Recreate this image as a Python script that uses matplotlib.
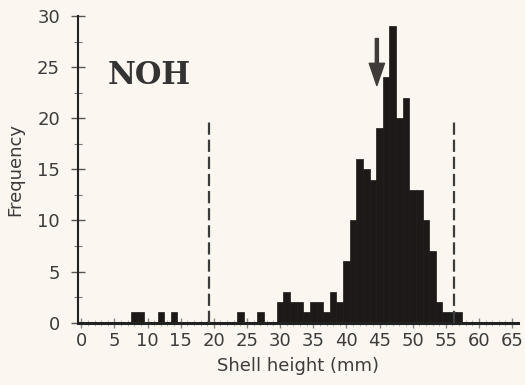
import numpy as np
import matplotlib.pyplot as plt

# Shell height classes (mm, 1 mm bins) and number of shells in each
hauteur = [8, 9, 12, 14, 24, 27, 30, 31, 32, 33, 34, 35, 36, 37, 38, 39, 40,
           41, 42, 43, 44, 45, 46, 47, 48, 49, 50, 51, 52, 53, 54, 55, 56, 57]
effectif = [1, 1, 1, 1, 1, 1, 2, 3, 2, 2, 1, 2, 2, 1, 3, 2, 6,
            10, 16, 15, 14, 19, 24, 29, 20, 22, 13, 13, 10, 7, 2, 1, 1, 1]

site = 'NOH'
limites = [19.3, 56.2]     # dashed limits
moyenne = 44.6             # arrow position
x_ticks = np.arange(0, 66, 5)
y_ticks = np.arange(0, 31, 5)

fond = '#fbf6ef'
gris = '#3c3c3c'

fig = plt.figure(figsize=(5.25, 3.85), dpi=100, facecolor=fond)
ax = fig.add_axes([0.1486, 0.1618, 0.8381, 0.7966], facecolor=fond)

ax.bar(hauteur, effectif, width=1.0, color='#1d1918', edgecolor='#1d1918',
       linewidth=0.5, zorder=2)

# Dashed limits
for xl in limites:
    ax.plot([xl, xl], [0, 19.6], color=gris, lw=1.6, dashes=(5.5, 2.2), zorder=3)

# Arrow above the mode
ax.annotate('', xy=(moyenne, 23.2), xytext=(moyenne, 27.8),
            arrowprops=dict(width=2.2, headwidth=11, headlength=16,
                            color='#3f3b3b', shrink=0))

ax.text(10.2, 24.2, site, family='DejaVu Serif', weight='bold', fontsize=22,
        color='#333333', ha='center', va='center')

ax.set_xlim(-0.5, 65.9)
ax.set_ylim(0, 30)
ax.set_xticks(x_ticks)
ax.set_yticks(y_ticks)
ax.set_xticks(np.arange(0, 66, 1), minor=True)
ax.set_yticks(np.arange(0, 30.1, 2.5), minor=True)

for s in ['top', 'right']:
    ax.spines[s].set_visible(False)
ax.spines['left'].set_linewidth(1.5)
ax.spines['left'].set_color('#222222')
ax.spines['bottom'].set_linewidth(2.2)
ax.spines['bottom'].set_color('#222222')

ax.tick_params(axis='y', which='major', direction='inout', length=10, width=1,
               color='#555555', labelsize=13, labelcolor=gris, pad=8)
ax.tick_params(axis='y', which='minor', direction='inout', length=6, width=0.8,
               color='#777777')
ax.tick_params(axis='x', which='major', direction='inout', length=7, width=1,
               color='#888888', labelsize=13, labelcolor=gris, pad=3)
ax.tick_params(axis='x', which='minor', direction='inout', length=5, width=0.6,
               color='#aaaaaa')

ax.set_xlabel('Shell height (mm)', fontsize=13, color=gris, labelpad=5)
ax.set_ylabel('Frequency', fontsize=13, color=gris, labelpad=9)

fig.savefig('out.png', dpi=100, facecolor=fond)
